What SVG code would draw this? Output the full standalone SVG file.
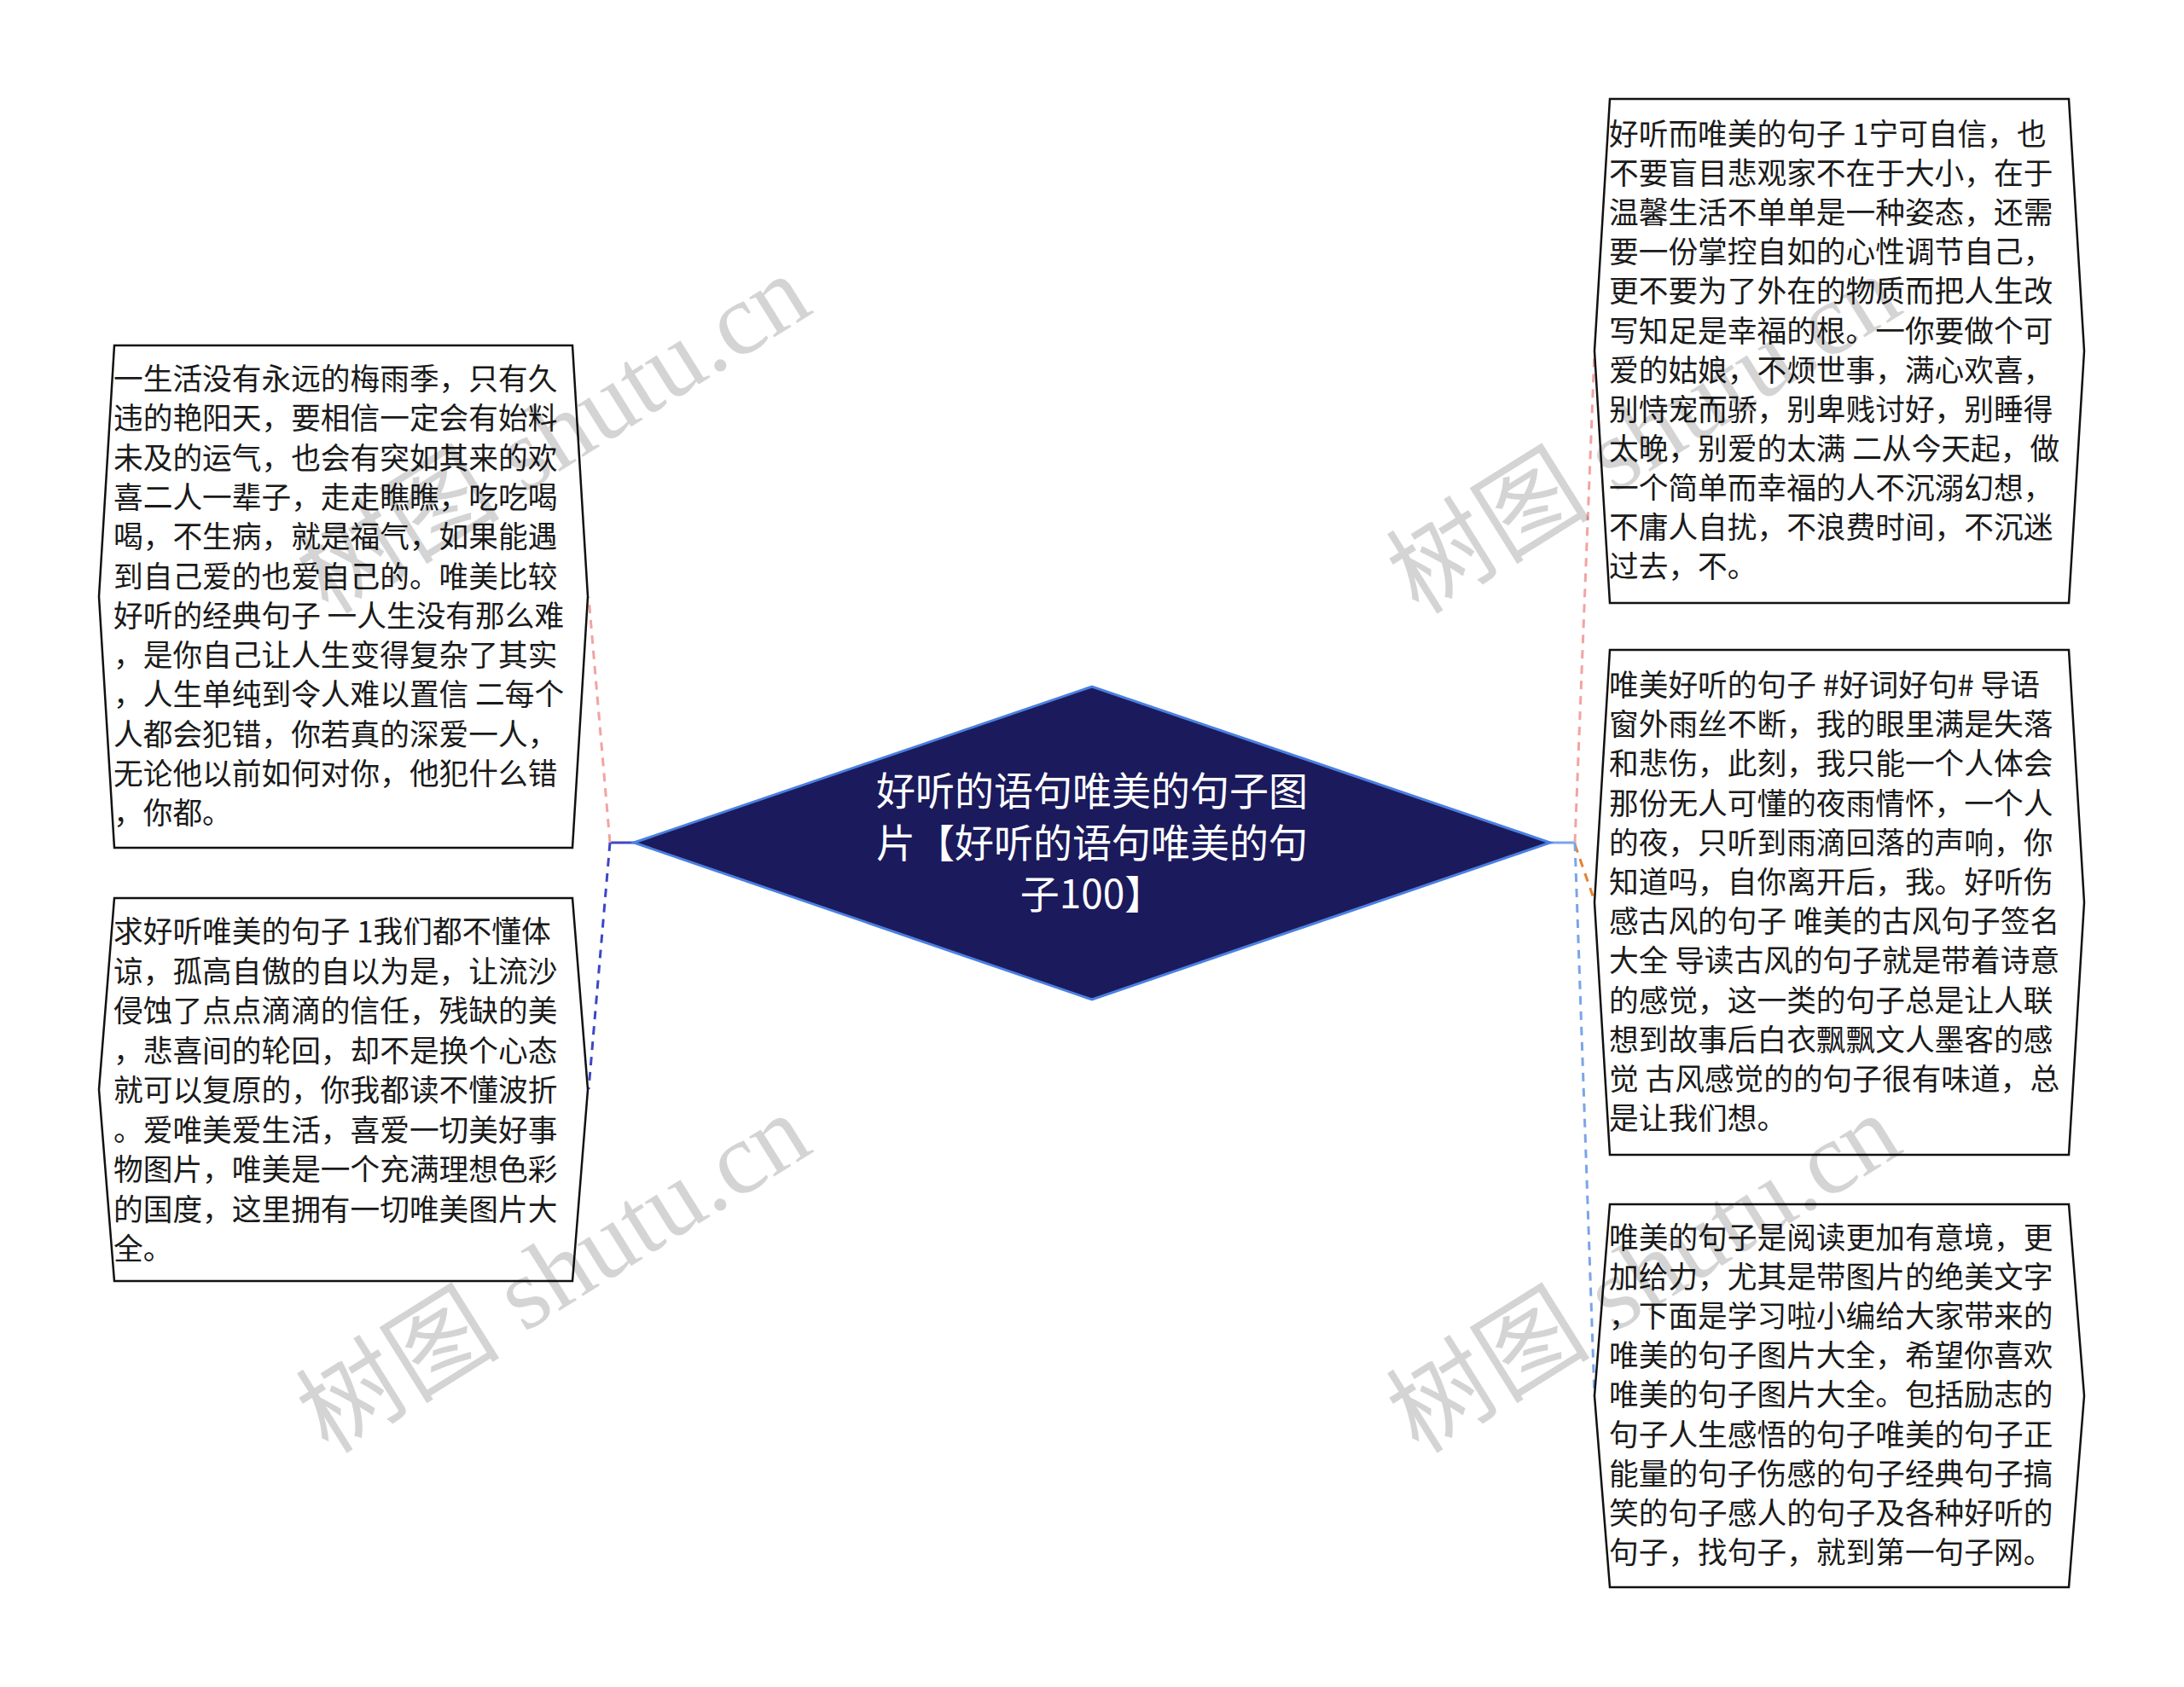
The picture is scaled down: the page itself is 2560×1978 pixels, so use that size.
<svg xmlns="http://www.w3.org/2000/svg" width="2560" height="1978" viewBox="0 0 2560 1978">
<style>
.bg{fill:#ffffff}
.node{fill:#ffffff;stroke:#111111;stroke-width:2.5}
.nt{font-family:"Noto Sans CJK SC","Liberation Sans",sans-serif;font-size:34.7px;fill:#1a1a1a}
.root{fill:#1b1a5c;stroke:#4a80e0;stroke-width:3}
.rt{font-family:"Noto Sans CJK SC","Liberation Sans",sans-serif;font-size:46px;fill:#ffffff;text-anchor:middle}
.c{fill:none;stroke-width:3}
.dash{stroke-dasharray:10 8}
.wm{font-family:"Liberation Serif","Noto Sans CJK SC",serif;font-size:120px;fill:#000000;fill-opacity:0.17}
</style>
<rect class="bg" x="0" y="0" width="2560" height="1978"/>

<g id="connectors">
  <line class="c" x1="743" y1="988" x2="715" y2="988" stroke="#3d47c4"/>
  <line class="c dash" x1="715" y1="988" x2="690" y2="700" stroke="#f2a3a3"/>
  <line class="c dash" x1="715" y1="988" x2="690" y2="1277" stroke="#3d47c4"/>
  <line class="c" x1="1817" y1="988" x2="1846" y2="988" stroke="#7aa5e8"/>
  <line class="c dash" x1="1846" y1="988" x2="1869" y2="412" stroke="#f2a3a3"/>
  <line class="c dash" x1="1846" y1="990" x2="1869" y2="1056" stroke="#e8802c"/>
  <line class="c dash" x1="1846" y1="988" x2="1869" y2="1637" stroke="#7aa5e8"/>
</g>

<g id="root">
  <polygon class="root" points="743,988 1280,805 1817,988 1280,1172"/>
  <text class="rt"><tspan x="1280" y="944">好听的语句唯美的句子图</tspan><tspan x="1280" y="1005">片【好听的语句唯美的句</tspan><tspan x="1280" y="1065">子100】</tspan></text>
</g>

<g id="node-left-1">
  <polygon class="node" points="134,405 671,405 689,699.5 671,994 134,994 116,699.5"/>
  <text class="nt">
    <tspan x="133" y="457">一生活没有永远的梅雨季，只有久</tspan>
    <tspan x="133" y="503.3">违的艳阳天，要相信一定会有始料</tspan>
    <tspan x="133" y="549.6">未及的运气，也会有突如其来的欢</tspan>
    <tspan x="133" y="595.9">喜二人一辈子，走走瞧瞧，吃吃喝</tspan>
    <tspan x="133" y="642.2">喝，不生病，就是福气，如果能遇</tspan>
    <tspan x="133" y="688.5">到自己爱的也爱自己的。唯美比较</tspan>
    <tspan x="133" y="734.8">好听的经典句子 一人生没有那么难</tspan>
    <tspan x="133" y="781.1">，是你自己让人生变得复杂了其实</tspan>
    <tspan x="133" y="827.4">，人生单纯到令人难以置信 二每个</tspan>
    <tspan x="133" y="873.7">人都会犯错，你若真的深爱一人，</tspan>
    <tspan x="133" y="920">无论他以前如何对你，他犯什么错</tspan>
    <tspan x="133" y="966.3">，你都。</tspan>
  </text>
</g>

<g id="node-left-2">
  <polygon class="node" points="134,1053 671,1053 689,1277.5 671,1502 134,1502 116,1277.5"/>
  <text class="nt">
    <tspan x="133" y="1105">求好听唯美的句子 1我们都不懂体</tspan>
    <tspan x="133" y="1151.5">谅，孤高自傲的自以为是，让流沙</tspan>
    <tspan x="133" y="1198">侵蚀了点点滴滴的信任，残缺的美</tspan>
    <tspan x="133" y="1244.5">，悲喜间的轮回，却不是换个心态</tspan>
    <tspan x="133" y="1291">就可以复原的，你我都读不懂波折</tspan>
    <tspan x="133" y="1337.5">。爱唯美爱生活，喜爱一切美好事</tspan>
    <tspan x="133" y="1384">物图片，唯美是一个充满理想色彩</tspan>
    <tspan x="133" y="1430.5">的国度，这里拥有一切唯美图片大</tspan>
    <tspan x="133" y="1477">全。</tspan>
  </text>
</g>

<g id="node-right-1">
  <polygon class="node" points="1887,116 2425,116 2443,411.5 2425,707 1887,707 1869,411.5"/>
  <text class="nt">
    <tspan x="1886" y="170">好听而唯美的句子 1宁可自信，也</tspan>
    <tspan x="1886" y="216.1">不要盲目悲观家不在于大小，在于</tspan>
    <tspan x="1886" y="262.2">温馨生活不单单是一种姿态，还需</tspan>
    <tspan x="1886" y="308.3">要一份掌控自如的心性调节自己，</tspan>
    <tspan x="1886" y="354.4">更不要为了外在的物质而把人生改</tspan>
    <tspan x="1886" y="400.5">写知足是幸福的根。一你要做个可</tspan>
    <tspan x="1886" y="446.6">爱的姑娘，不烦世事，满心欢喜，</tspan>
    <tspan x="1886" y="492.7">别恃宠而骄，别卑贱讨好，别睡得</tspan>
    <tspan x="1886" y="538.8">太晚，别爱的太满 二从今天起，做</tspan>
    <tspan x="1886" y="584.9">一个简单而幸福的人不沉溺幻想，</tspan>
    <tspan x="1886" y="631">不庸人自扰，不浪费时间，不沉迷</tspan>
    <tspan x="1886" y="677.1">过去，不。</tspan>
  </text>
</g>

<g id="node-right-2">
  <polygon class="node" points="1887,762 2425,762 2443,1058 2425,1354 1887,1354 1869,1058"/>
  <text class="nt">
    <tspan x="1886" y="816">唯美好听的句子 #好词好句# 导语</tspan>
    <tspan x="1886" y="862.2">窗外雨丝不断，我的眼里满是失落</tspan>
    <tspan x="1886" y="908.4">和悲伤，此刻，我只能一个人体会</tspan>
    <tspan x="1886" y="954.6">那份无人可懂的夜雨情怀，一个人</tspan>
    <tspan x="1886" y="1000.8">的夜，只听到雨滴回落的声响，你</tspan>
    <tspan x="1886" y="1047">知道吗，自你离开后，我。好听伤</tspan>
    <tspan x="1886" y="1093.2">感古风的句子 唯美的古风句子签名</tspan>
    <tspan x="1886" y="1139.4">大全 导读古风的句子就是带着诗意</tspan>
    <tspan x="1886" y="1185.6">的感觉，这一类的句子总是让人联</tspan>
    <tspan x="1886" y="1231.8">想到故事后白衣飘飘文人墨客的感</tspan>
    <tspan x="1886" y="1278">觉 古风感觉的的句子很有味道，总</tspan>
    <tspan x="1886" y="1324.2">是让我们想。</tspan>
  </text>
</g>

<g id="node-right-3">
  <polygon class="node" points="1887,1412 2425,1412 2443,1636.5 2425,1861 1887,1861 1869,1636.5"/>
  <text class="nt">
    <tspan x="1886" y="1464">唯美的句子是阅读更加有意境，更</tspan>
    <tspan x="1886" y="1510.1">加给力，尤其是带图片的绝美文字</tspan>
    <tspan x="1886" y="1556.2">，下面是学习啦小编给大家带来的</tspan>
    <tspan x="1886" y="1602.3">唯美的句子图片大全，希望你喜欢</tspan>
    <tspan x="1886" y="1648.4">唯美的句子图片大全。包括励志的</tspan>
    <tspan x="1886" y="1694.5">句子人生感悟的句子唯美的句子正</tspan>
    <tspan x="1886" y="1740.6">能量的句子伤感的句子经典句子搞</tspan>
    <tspan x="1886" y="1786.7">笑的句子感人的句子及各种好听的</tspan>
    <tspan x="1886" y="1832.8">句子，找句子，就到第一句子网。</tspan>
  </text>
</g>

<g id="watermarks">
  <text class="wm" transform="translate(385,722) rotate(-32)">树图 shutu.cn</text>
  <text class="wm" transform="translate(385,1706) rotate(-32)">树图 shutu.cn</text>
  <text class="wm" transform="translate(1663,722) rotate(-32)">树图 shutu.cn</text>
  <text class="wm" transform="translate(1663,1706) rotate(-32)">树图 shutu.cn</text>
</g>
</svg>
